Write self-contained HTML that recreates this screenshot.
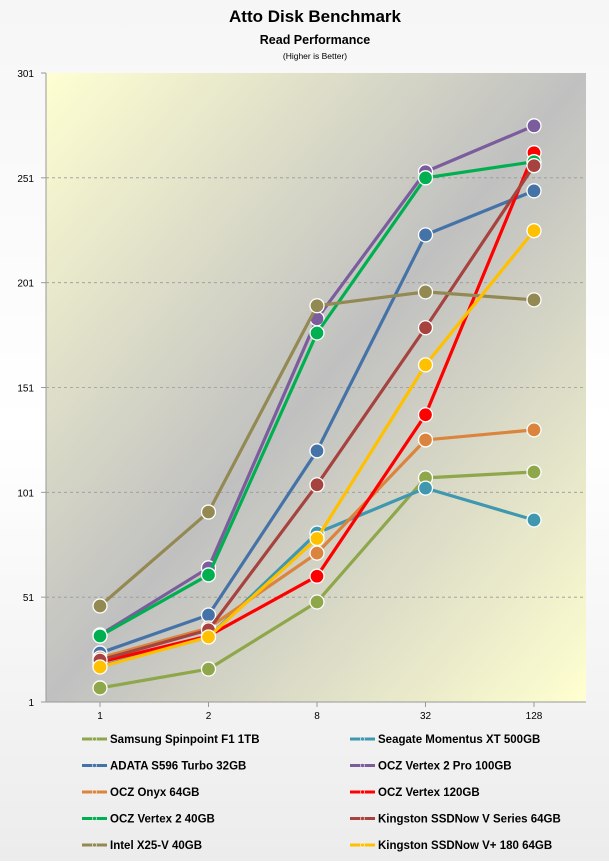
<!DOCTYPE html>
<html><head><meta charset="utf-8"><style>
body{margin:0;width:609px;height:861px;overflow:hidden;font-family:"Liberation Sans",sans-serif;}
</style></head><body>
<svg id="chart" width="609" height="861" xmlns="http://www.w3.org/2000/svg">
<defs>
<linearGradient id="bg" x1="0" y1="0" x2="0" y2="1"><stop offset="0" stop-color="#f6f6f6"/><stop offset="0.5" stop-color="#ffffff"/><stop offset="1" stop-color="#ececec"/></linearGradient>
<linearGradient id="plotbg" x1="0" y1="0" x2="1" y2="1"><stop offset="0" stop-color="#ffffd2"/><stop offset="0.5" stop-color="#c0c0c0"/><stop offset="1" stop-color="#ffffd0"/></linearGradient>
</defs>
<rect width="609" height="861" fill="url(#bg)"/>
<text x="315" y="22" text-anchor="middle" font-size="17" font-weight="bold">Atto Disk Benchmark</text>
<text x="315" y="44" text-anchor="middle" font-size="12.5" font-weight="bold">Read Performance</text>
<text x="315" y="59" text-anchor="middle" font-size="8.5">(Higher is Better)</text>
<rect x="46" y="73" width="540" height="629" fill="url(#plotbg)"/>
<g id="grid"></g><g id="axes"></g><g id="series"></g><g id="legend"></g>
</svg>
<script>
const categories=["1","2","8","32","128"];
const yTicks=[1,51,101,151,201,251,301];
const names=["Samsung Spinpoint F1 1TB","Seagate Momentus XT 500GB","ADATA S596 Turbo 32GB","OCZ Vertex 2 Pro 100GB","OCZ Onyx 64GB","OCZ Vertex 120GB","OCZ Vertex 2 40GB","Kingston SSDNow V Series 64GB","Intel X25-V 40GB","Kingston SSDNow V+ 180 64GB"];
const colors=["#8ea74b","#3f98b0","#4573a8","#7b5d9e","#db843d","#ff0000","#00b050","#a6433f","#938953","#ffc000"];
const samsung=[7.7,16.7,48.7,107.9,110.7];
const seagate=[18,32,81.6,103,87.8];
const adata=[24.4,42.5,120.8,223.8,244.8];
const vertex2pro=[33,65,183.8,253.9,275.8];
const onyx=[22,36.3,72,126,130.8];
const vertex120=[20,32.5,61,138,263];
const vertex2=[32.5,61.6,177,251,258.7];
const kingstonV=[21,35.4,104.6,179.5,256.8];
const intel=[46.8,91.6,190,196.6,192.8];
const kingstonVplus=[17.7,32,79,161.8,225.8];
const series=[samsung,seagate,adata,vertex2pro,onyx,vertex120,vertex2,kingstonV,intel,kingstonVplus];
const seriesKeys=["samsung","seagate","adata","vertex2pro","onyx","vertex120","vertex2","kingston-v","intel","kingston-vplus"];
const NS="http://www.w3.org/2000/svg";
const X0=46,X1=586,Y0=702,Y1=73;
const x=i=>X0+54+i*108.5;
const y=v=>Y0-(v-1)/300*(Y0-Y1);
function mk(t,a,p){const e=document.createElementNS(NS,t);for(const k in a)e.setAttribute(k,a[k]);p.appendChild(e);return e;}
const grid=document.getElementById('grid'),axes=document.getElementById('axes'),sg=document.getElementById('series'),lg=document.getElementById('legend');
yTicks.forEach(t=>{
  if(t>1&&t<301){const l=mk('line',{x1:X0,x2:X1,y1:y(t),y2:y(t),stroke:'#999','stroke-dasharray':'3,3','stroke-width':0.8},grid);
  
  }
  const tk=mk('line',{x1:X0-5,x2:X0,y1:y(t),y2:y(t),stroke:'#999'},axes);
  
  
  const tx=mk('text',{x:X0-12,y:y(t)+4,'text-anchor':'end','font-size':10},axes);tx.textContent=t;
  
  
});
const ya=mk('line',{x1:X0,x2:X0,y1:Y1,y2:Y0,stroke:'#999'},axes);


const xa=mk('line',{x1:X0,x2:X1,y1:Y0,y2:Y0,stroke:'#999'},axes);


categories.forEach((c,i)=>{
  const tk=mk('line',{x1:x(i),x2:x(i),y1:Y0,y2:Y0+5,stroke:'#999'},axes);
  
  
  const tx=mk('text',{x:x(i),y:Y0+17,'text-anchor':'middle','font-size':10},axes);tx.textContent=c;
  
  
});
series.forEach((d,s)=>{
  const g=mk('g',{},sg);
  
  
  const pl=mk('polyline',{points:d.map((v,i)=>x(i)+','+y(v)).join(' '),fill:'none',stroke:colors[s],'stroke-width':3.2,'stroke-linejoin':'round'},g);
  
  
  d.forEach((v,i)=>{
    const c=mk('circle',{cx:x(i),cy:y(v),r:7,fill:colors[s],stroke:'#fff','stroke-width':1.3},g);
    
    
  });
});
names.forEach((n,s)=>{
  const col=s%2,row=Math.floor(s/2);
  const lx=col?350:82,ly=739+row*26.5;
  const g=mk('g',{},lg);
  
  
  mk('line',{x1:lx,x2:lx+25,y1:ly,y2:ly,stroke:colors[s],'stroke-width':3},g);
  mk('circle',{cx:lx+12.5,cy:ly,r:2,fill:colors[s],stroke:'#fff','stroke-width':0.6},g);
  const t=mk('text',{x:lx+28,y:ly+4,'font-size':11.5,'font-weight':'bold'},g);t.textContent=n;
});
</script>
</body></html>
